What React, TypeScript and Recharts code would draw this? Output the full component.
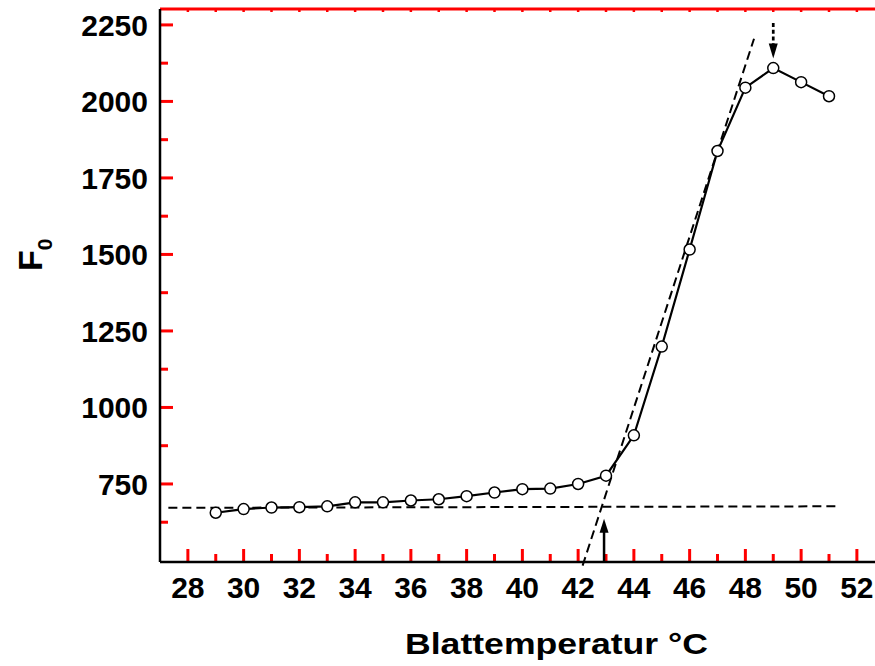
import { LineChart, Line, XAxis, YAxis, ReferenceLine, ReferenceDot } from "recharts"

const temps = [29, 30, 31, 32, 33, 34, 35, 36, 37, 38, 39, 40, 41, 42, 43, 44, 45, 46, 47, 48, 49, 50, 51]
const f0 = [656, 668, 673, 674, 677, 690, 690, 696, 700, 710, 722, 733, 735, 750, 777, 909, 1199, 1516, 1838, 2045, 2109, 2063, 2017]

const xTicks = [28, 29, 30, 31, 32, 33, 34, 35, 36, 37, 38, 39, 40, 41, 42, 43, 44, 45, 46, 47, 48, 49, 50, 51, 52]
const yTicks = [625, 750, 875, 1000, 1125, 1250, 1375, 1500, 1625, 1750, 1875, 2000, 2125, 2250]

// fitted lines
const baseLine = [{ x: 27.3, y: 672 }, { x: 51.3, y: 677 }]
const riseLine = [{ x: 42.16, y: 483 }, { x: 48.31, y: 2205 }]
const onsetT = 42.93
const peakT = 49

const X_DOMAIN: [number, number] = [27, 52.65]
const Y_DOMAIN: [number, number] = [495, 2302]

const data = temps.map((t, i) => ({ t, f0: f0[i] }))

const FONT = "'Liberation Sans', Arial, Helvetica, sans-serif"
const MARK = "red"

// plot area is 715 x 553 px; turns tick lengths (px) into data units
const xUnit = (X_DOMAIN[1] - X_DOMAIN[0]) / 715
const yUnit = (Y_DOMAIN[1] - Y_DOMAIN[0]) / 553

const YTick = (props: any) => {
  const { x, y, payload } = props
  if (payload.value % 250 !== 0) return null
  return (
    <text x={x} y={y} dy="0.36em" textAnchor="end" fontFamily={FONT} fontWeight="bold" fontSize={30} fill="#000">
      {payload.value}
    </text>
  )
}

const XTick = (props: any) => {
  const { x, y, payload } = props
  if (payload.value % 2 !== 0) return null
  return (
    <text x={x} y={y} dy="0.36em" textAnchor="middle" fontFamily={FONT} fontWeight="bold" fontSize={30} fill="#000">
      {payload.value}
    </text>
  )
}

const arrowUp = (props: any) => {
  const { cx, cy } = props
  return <path d={`M${cx},${cy} L${cx - 4.5},${cy + 14} L${cx + 4.5},${cy + 14} Z`} fill="#000" />
}

const arrowDown = (props: any) => {
  const { cx, cy } = props
  return <path d={`M${cx},${cy} L${cx - 4.5},${cy - 15} L${cx + 4.5},${cy - 15} Z`} fill="#000" />
}

export default function App() {
  return (
    <div style={{ position: "absolute", left: 0, top: 0, width: 875, height: 666, overflow: "hidden", background: "#fff" }}>
      <LineChart width={875} height={666} data={data} margin={{ top: 9, right: 0, bottom: 0, left: 0 }}>
        <XAxis
          dataKey="t"
          type="number"
          domain={X_DOMAIN}
          allowDataOverflow
          ticks={xTicks}
          interval={0}
          height={104}
          stroke="#000"
          strokeWidth={2.5}
          tickLine={false}
          tickSize={0}
          tickMargin={25}
          tick={<XTick />}
          label={{
            content: (p: any) => (
              <text
                x={p.viewBox.x + p.viewBox.width / 2 + 39}
                y={p.viewBox.y + 92}
                textAnchor="middle"
                textLength={303}
                lengthAdjust="spacingAndGlyphs"
                fontFamily={FONT}
                fontWeight="bold"
                fontSize={30}
                fill="#000"
              >
                Blattemperatur °C
              </text>
            ),
          }}
        />
        <YAxis
          type="number"
          domain={Y_DOMAIN}
          allowDataOverflow
          ticks={yTicks}
          interval={0}
          width={160}
          stroke="#000"
          strokeWidth={2.5}
          tickLine={false}
          tickSize={0}
          tickMargin={12}
          tick={<YTick />}
          label={{
            content: () => (
              <text
                x={42}
                y={271}
                transform="rotate(-90, 42, 271)"
                fontFamily={FONT}
                fontWeight="bold"
                fontSize={34}
                fill="#000"
              >
                F
                <tspan fontSize={21} dy={10}>0</tspan>
              </text>
            ),
          }}
        />

        {/* frame line on top with small integer ticks */}
        <ReferenceLine y={Y_DOMAIN[1]} stroke={MARK} strokeWidth={3} ifOverflow="visible" />
        {xTicks.map((v) => (
          <ReferenceLine
            key={`tt${v}`}
            segment={[{ x: v, y: Y_DOMAIN[1] - 3 * yUnit }, { x: v, y: Y_DOMAIN[1] + 1 * yUnit }]}
            stroke={MARK}
            strokeWidth={2.5}
            ifOverflow="visible"
          />
        ))}

        {/* inward tick marks, long on labelled values */}
        {xTicks.map((v) => (
          <ReferenceLine
            key={`xt${v}`}
            segment={[{ x: v, y: Y_DOMAIN[0] }, { x: v, y: Y_DOMAIN[0] + (v % 2 === 0 ? 13 : 8) * yUnit }]}
            stroke={MARK}
            strokeWidth={3}
            ifOverflow="visible"
          />
        ))}
        {yTicks.map((v) => (
          <ReferenceLine
            key={`yt${v}`}
            segment={[{ x: X_DOMAIN[0], y: v }, { x: X_DOMAIN[0] + (v % 250 === 0 ? 13 : 8) * xUnit, y: v }]}
            stroke={MARK}
            strokeWidth={3}
            ifOverflow="visible"
          />
        ))}

        <ReferenceLine segment={baseLine} stroke="#000" strokeWidth={2} strokeDasharray="9 5" ifOverflow="visible" />
        <ReferenceLine segment={riseLine} stroke="#000" strokeWidth={2} strokeDasharray="9 5" ifOverflow="visible" />

        <ReferenceLine segment={[{ x: onsetT, y: 495 }, { x: onsetT, y: 600 }]} stroke="#000" strokeWidth={2.5} ifOverflow="visible" />
        <ReferenceDot x={onsetT} y={636} ifOverflow="visible" shape={arrowUp} />

        <ReferenceLine segment={[{ x: peakT, y: 2256 }, { x: peakT, y: 2185 }]} stroke="#000" strokeWidth={2.7} strokeDasharray="4 2.7" ifOverflow="visible" />
        <ReferenceDot x={peakT} y={2140} ifOverflow="visible" shape={arrowDown} />

        <Line
          dataKey="f0"
          type="linear"
          stroke="#000"
          strokeWidth={2.2}
          dot={{ r: 5.5, fill: "#fff", stroke: "#000", strokeWidth: 1.5 }}
          isAnimationActive={false}
        />
      </LineChart>
    </div>
  )
}
